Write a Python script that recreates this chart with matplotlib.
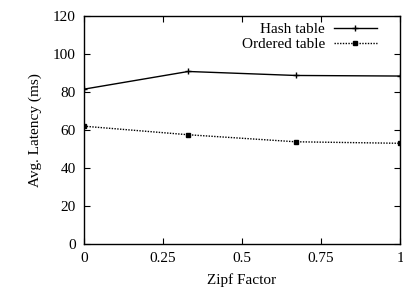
import matplotlib
matplotlib.use("Agg")
import matplotlib.pyplot as plt

zipf = [0, 0.33, 0.67, 1.0]
hash_table = [81.5, 90.8, 88.7, 88.4]
ordered_table = [62.0, 57.5, 53.8, 53.0]
xticks = [0, 0.25, 0.5, 0.75, 1]
xticklabels = ["0", "0.25", "0.5", "0.75", "1"]
yticks = [0, 20, 40, 60, 80, 100, 120]

plt.rcParams['font.family'] = ['Liberation Serif', 'DejaVu Serif']
plt.rcParams['font.size'] = 11

fig = plt.figure(figsize=(4.03, 2.95), dpi=100)
ax = fig.add_axes([84/403, 1-244/295, 316/403, 228/295])

ax.plot(zipf, hash_table, color='black', lw=1.0, marker='+', ms=4, mew=1, label='Hash table')
ax.plot(zipf, ordered_table, color='black', lw=1.0, ls=(0, (1, 1)), marker='s', ms=2.5, label='Ordered table')

ax.set_xlim(0, 1)
ax.set_ylim(0, 120)
ax.set_xticks(xticks)
ax.set_xticklabels(xticklabels)
ax.set_yticks(yticks)
ax.tick_params(direction='in', top=True, right=True, length=4, width=0.8, labelsize=11, pad=6)
for s in ax.spines.values():
    s.set_linewidth(1.0)

ax.set_xlabel('Zipf Factor', fontsize=11, labelpad=6)
ax.set_ylabel('Avg. Latency (ms)', fontsize=11, labelpad=8)

leg = ax.legend(loc='upper right', bbox_to_anchor=(1 - 14/316, 1 + 3/228), frameon=False,
                markerfirst=False, fontsize=11, handlelength=2.8, borderaxespad=0.2,
                labelspacing=0.1, handletextpad=0.6)
for t in leg.get_texts():
    t.set_ha('right')

fig.savefig('out.png', dpi=100)
